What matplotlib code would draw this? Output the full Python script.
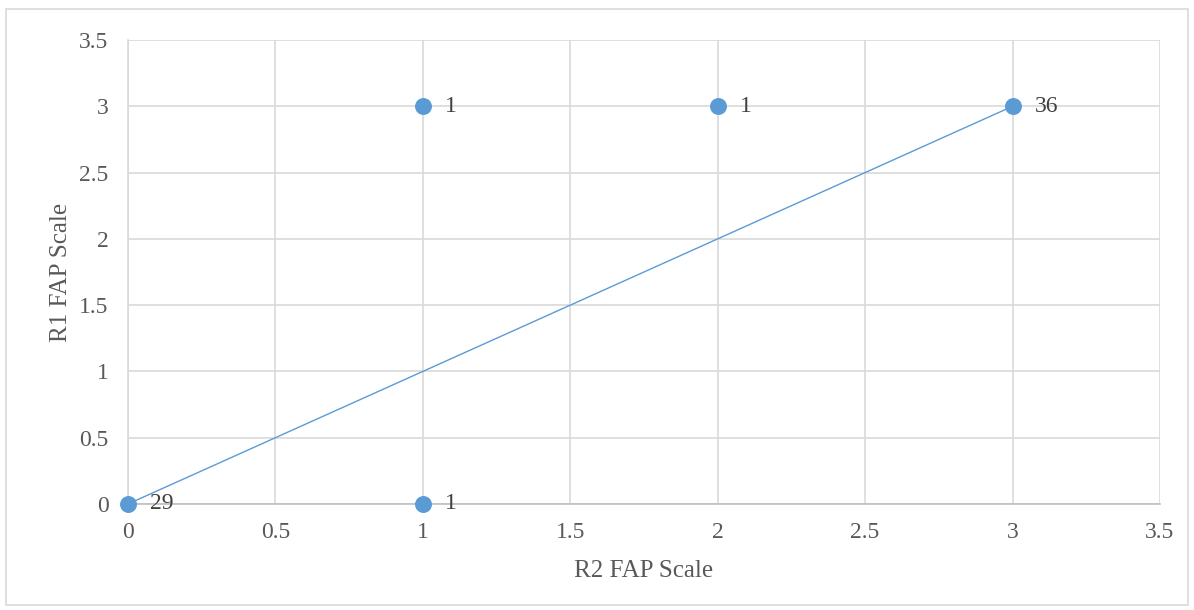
import matplotlib.pyplot as plt
from matplotlib.patches import Rectangle

plt.rcParams['font.family'] = ['Liberation Serif', 'DejaVu Serif']

# R2 (x) vs R1 (y) FAP scale, with counts per point
r2_scale = [0, 1, 2, 3, 1]
r1_scale = [0, 3, 3, 3, 0]
counts = [29, 1, 1, 36, 1]
line_x = [0, 3]
line_y = [0, 3]

blue = '#5B9BD5'
grey_text = '#595959'

fig = plt.figure(figsize=(11.94, 6.10), dpi=100, facecolor='white')
fig.patches.append(Rectangle((0.005, 0.008), 0.99, 0.977, transform=fig.transFigure,
                             fill=False, edgecolor='#D9D9D9', linewidth=1.2))
ax = fig.add_axes([0.1072, 0.1738, 0.8643, 0.7606])

ax.plot(line_x, line_y, color=blue, linewidth=1, zorder=2)
ax.scatter(r2_scale, r1_scale, s=125, color=blue, zorder=3, clip_on=False)
for x, y, c in zip(r2_scale, r1_scale, counts):
    ax.annotate(str(c), (x, y), xytext=(16, 0), textcoords='offset points',
                va='center', ha='left', fontsize=17, color='#404040')

ax.set_xlim(0, 3.5)
ax.set_ylim(0, 3.5)
ticks = [0, 0.5, 1, 1.5, 2, 2.5, 3, 3.5]
labels = ['0', '0.5', '1', '1.5', '2', '2.5', '3', '3.5']
ax.set_xticks(ticks, labels)
ax.set_yticks(ticks, labels)
ax.tick_params(length=0, labelsize=17, labelcolor=grey_text)
ax.tick_params(axis='x', pad=13)
ax.tick_params(axis='y', pad=14)
ax.grid(True, color='#D9D9D9', linewidth=1.2)
ax.set_axisbelow(True)
for s in ['top', 'right']:
    ax.spines[s].set_visible(False)
ax.spines['left'].set_color('#D9D9D9')
ax.spines['bottom'].set_color('#BFBFBF')
ax.spines['left'].set_linewidth(1.2)
ax.spines['bottom'].set_linewidth(1.2)

ax.set_xlabel('R2 FAP Scale', fontsize=18, color=grey_text, labelpad=12)
ax.set_ylabel('R1 FAP Scale', fontsize=18, color=grey_text, labelpad=5)

fig.savefig('out.png', dpi=100)
